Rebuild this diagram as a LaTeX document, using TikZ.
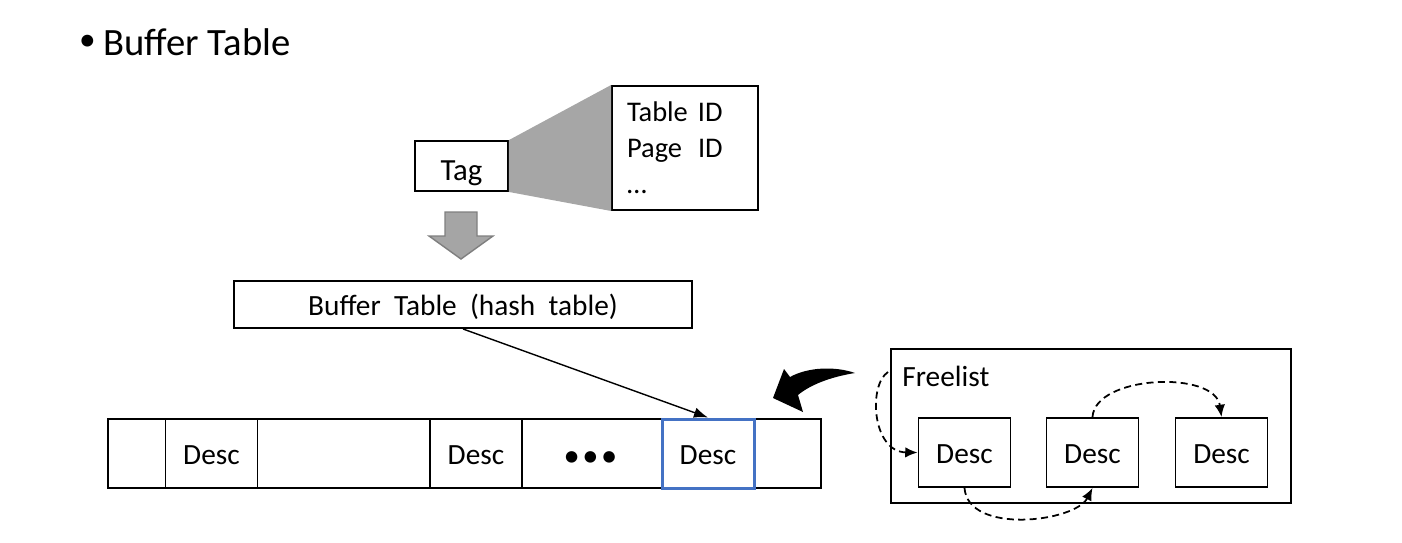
\documentclass[tikz,border=0pt]{standalone}
\usepackage{fontspec}
\setmainfont{Carlito}
\newfontfamily\widefont{Carlito}[WordSpace=2]
\usetikzlibrary{arrows.meta}
\definecolor{infogray}{HTML}{A6A6A6}
\definecolor{arrowgray}{HTML}{A5A5A5}
\definecolor{edgegray}{HTML}{7F7F7F}
\definecolor{selblue}{HTML}{4472C4}
\tikzstyle{frame}=[draw, line width=1.1pt, rectangle, inner sep=0pt, font=\fontsize{16.7}{20.4}\selectfont]
\tikzstyle{box}=[frame, text height=16pt, text depth=3.5pt]
\tikzstyle{desc}=[box, minimum width=92*0.02cm, minimum height=69*0.02cm]
\tikzstyle{link}=[line width=1pt, dash pattern=on 4pt off 2.5pt, -{Latex[length=7pt,width=6pt]}]
\newcommand{\desc}{\node[desc]}

\begin{document}
\begin{tikzpicture}[x=0.02cm, y=-0.02cm]
            \useasboundingbox (0,0) rectangle (1402,542);
            \node[inner sep=0pt, font=\fontsize{19}{22}\selectfont] (bullet) at (87.5,43) {•};
            \node[anchor=base west, inner sep=0pt, font=\fontsize{22}{26}\selectfont] (title) at (103,55) {Buffer Table};
            % tag and its fields
            \node[box, minimum width=93*0.02cm, minimum height=50*0.02cm, font=\fontsize{17.5}{21}\selectfont,
                text height=18pt, text depth=2pt] (tag) at (461.5,166) {Tag};
            \node[frame, minimum width=146*0.02cm, minimum height=124*0.02cm, text width=116*0.02cm, align=left,
                font=\fontsize{16.2}{20.4}\selectfont] (info) at (685,148)
                {\makebox[1.42cm][l]{Table}ID\\\makebox[1.42cm][l]{Page}ID\\\ldots};
            \fill[infogray] (tag.north east) -- (info.north west) -- (info.south west) -- (tag.south east) -- cycle;
            \coordinate (down) at (461,212);
            \filldraw[fill=arrowgray, draw=edgegray, line width=0.8pt]
                (down) ++(-16,0) -- ++(32,0) -- ++(0,24) -- ++(16,0) -- (461,259) -- (429,236) -- ++(16,0) -- cycle;
            \node[box, minimum width=458*0.02cm, minimum height=47*0.02cm, font=\widefont\fontsize{16.7}{20.4}\selectfont] (hash) at (463,304.5)
                {Buffer Table (hash table)};
            % buffer descriptors
            \node[frame, minimum width=713*0.02cm, minimum height=69*0.02cm] (row) at (464.5,453.5) {};
            \desc (d1) at (211.5,453.5) {Desc};
            \desc (d2) at (476,453.5) {Desc};
            \node[inner sep=0pt, font=\fontsize{18.5}{22}\selectfont] (dots) at (590.5,459) {•\hspace{0.05cm}•\hspace{0.05cm}•};
            \desc[draw=selblue, line width=1.7pt] (d3) at (708,453.5) {Desc};
            \draw[line width=0.8pt, -{Latex[length=8pt,width=6pt]}] (hash.south) -- (d3.north);
            % freelist
            \node[frame, minimum width=400*0.02cm, minimum height=154*0.02cm] (free) at (1091,426) {};
            \node[anchor=west, inner sep=0pt, font=\fontsize{16.7}{20.4}\selectfont] (freelbl) at (902,376) {Freelist};
            \desc (f1) at (964.5,452.5) {Desc};
            \desc (f2) at (1092.5,452.5) {Desc};
            \desc (f3) at (1221.5,452.5) {Desc};
            \coordinate (fstart) at (888,372);
            \draw[link] (fstart) .. controls (868,385) and (872,452) .. (f1.west);
            \draw[link] (f1.south) .. controls (968,535) and (1075,522) .. (f2.south);
            \draw[link] (f2.north) .. controls (1095,375) and (1215,370) .. (f3.north);
            % taking a descriptor from the freelist
            \fill (855,373) .. controls (835,366) and (808,367) .. (790,377) -- (784,369) -- (773,398) -- (803,412)
                -- (798,395) .. controls (810,385) and (830,377) .. (855,373) -- cycle;
        \end{tikzpicture}
\end{document}
